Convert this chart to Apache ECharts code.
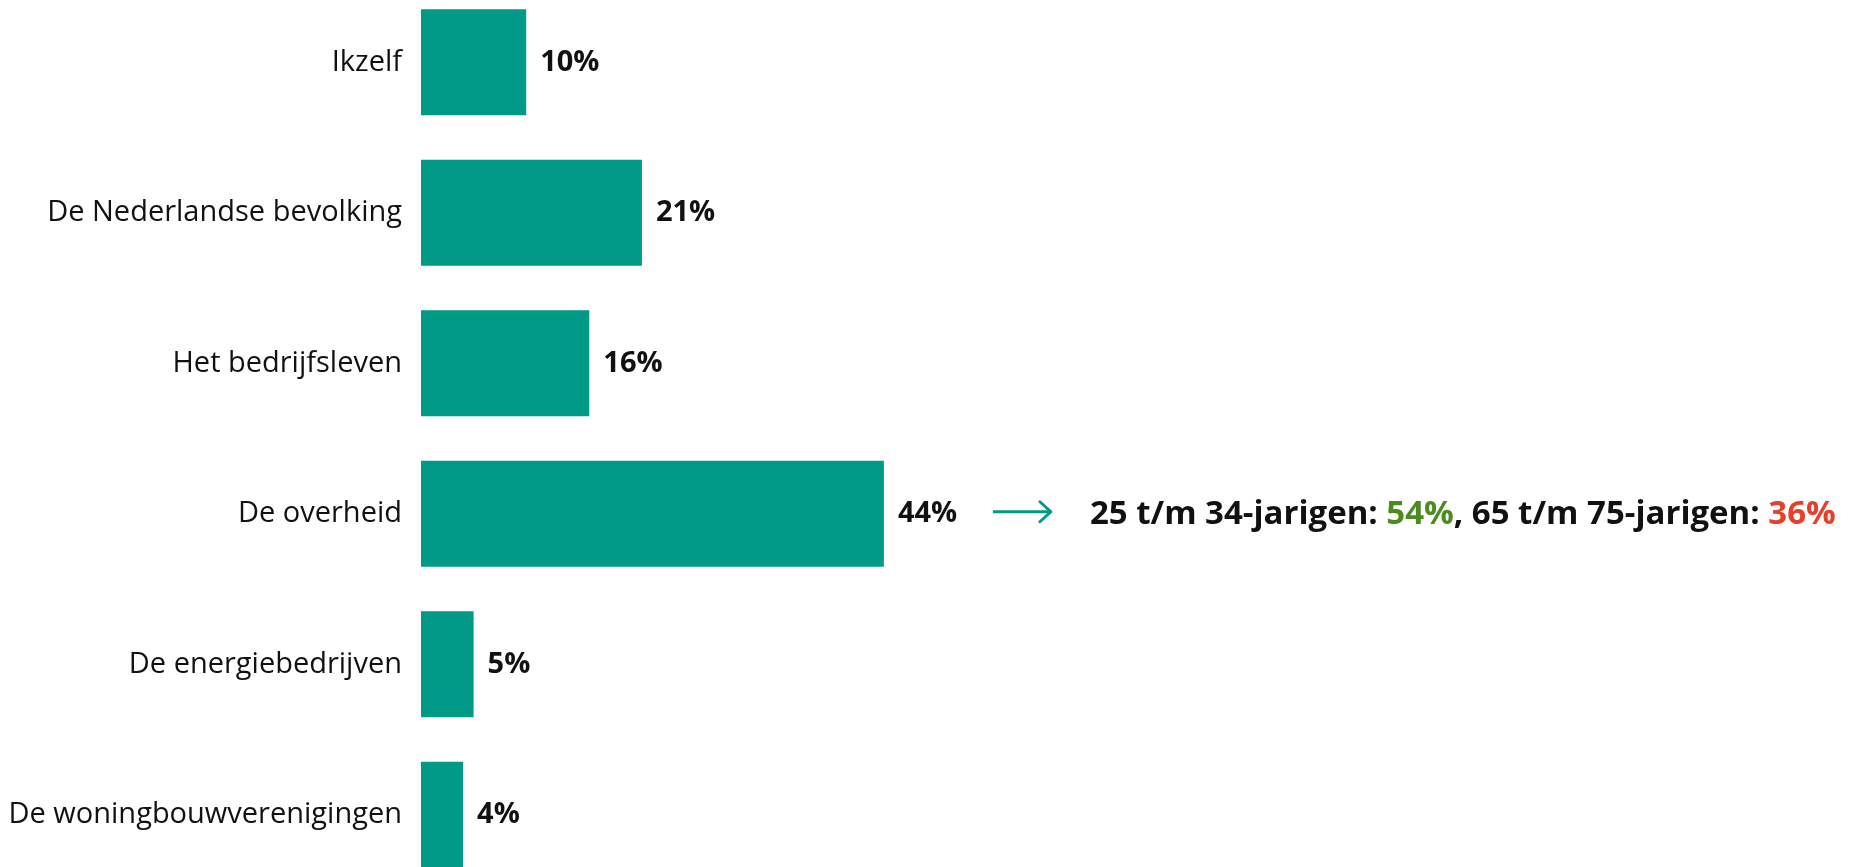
<!DOCTYPE html>
<html>
<head>
<meta charset="utf-8">
<script src="https://cdn.jsdelivr.net/npm/echarts@6/dist/echarts.min.js"></script>
<style>
  html, body { margin: 0; padding: 0; background: #fff; }
  #chart { width: 1853px; height: 867px; }
</style>
</head>
<body>
<div id="chart"></div>
<script>
// data
const categories = [
  "Ikzelf",
  "De Nederlandse bevolking",
  "Het bedrijfsleven",
  "De overheid",
  "De energiebedrijven",
  "De woningbouwverenigingen"
];
const values = [10, 21, 16, 44, 5, 4];
const noteCategory = "De overheid";
const noteParts = [
  { text: "25 t/m 34-jarigen: ", style: "b" },
  { text: "54%", style: "g" },
  { text: ", 65 t/m 75-jarigen: ", style: "b" },
  { text: "36%", style: "r" }
];

const teal = "#009a87";
const font = "'Open Sans', sans-serif";

const chart = echarts.init(document.getElementById("chart"));
const option = {
  animation: false,
  grid: {
    left: 421,
    width: 1052,
    top: -13,
    height: 903,
    outerBoundsMode: "none",
    containLabel: false
  },
  xAxis: { type: "value", min: 0, max: 100, show: false },
  yAxis: {
    type: "category",
    data: categories,
    inverse: true,
    axisLine: { show: false },
    axisTick: { show: false },
    axisLabel: {
      margin: 19,
      color: "#111",
      fontFamily: font,
      fontSize: 29,
      padding: [6, 0, 0, 0]
    }
  },
  series: [
    {
      type: "bar",
      data: values,
      barWidth: 106,
      itemStyle: { color: teal },
      label: {
        show: true,
        position: "right",
        distance: 14,
        formatter: "{c}%",
        color: "#111",
        fontFamily: font,
        fontWeight: "bold",
        fontSize: 29,
        padding: [6, 0, 0, 0]
      }
    }
  ]
};
chart.setOption(option);

// annotation next to the overheid bar
const idx = categories.indexOf(noteCategory);
const p = chart.convertToPixel({ gridIndex: 0 }, [values[idx], noteCategory]);
const ax = p[0] + 109;
const ay = p[1] - 2;
chart.setOption({
  graphic: [
    {
      type: "line",
      shape: { x1: ax, y1: ay, x2: ax + 58, y2: ay },
      style: { stroke: teal, lineWidth: 3 }
    },
    {
      type: "polyline",
      shape: { points: [[ax + 47, ay - 10], [ax + 58, ay], [ax + 47, ay + 10]] },
      style: { stroke: teal, lineWidth: 3, fill: null, lineCap: "round", lineJoin: "round" }
    },
    {
      type: "text",
      x: ax + 97,
      y: ay + 3,
      style: {
        text: noteParts.map(d => "{" + d.style + "|" + d.text + "}").join(""),
        verticalAlign: "middle",
        font: "bold 33px " + font,
        rich: {
          b: { fill: "#111", fontFamily: font, fontWeight: "bold", fontSize: 33 },
          g: { fill: "#4c8c1e", fontFamily: font, fontWeight: "bold", fontSize: 33 },
          r: { fill: "#e4402b", fontFamily: font, fontWeight: "bold", fontSize: 33 }
        }
      }
    }
  ]
});
window.addEventListener("resize", () => chart.resize());
</script>
</body>
</html>
